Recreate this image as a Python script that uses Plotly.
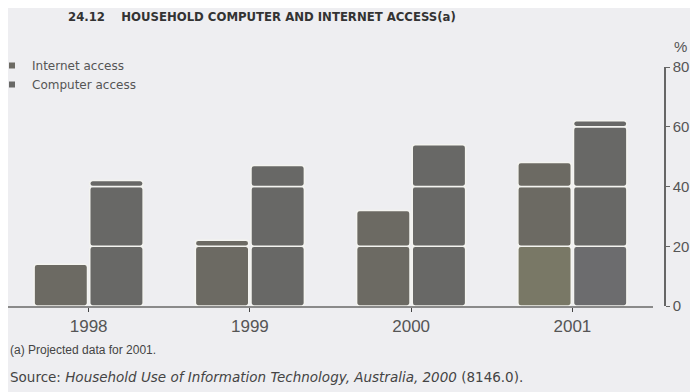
import plotly.graph_objects as go

# ---- data ----
years = ["1998", "1999", "2000", "2001"]
internet = [14, 22, 32, 48]
computer = [42, 47, 54, 62]
projected = [False, False, False, True]   # (a) projected data for 2001
series_names = ["Internet access", "Computer access"]
y_ticks = [0, 20, 40, 60, 80]

# ---- styles ----
BG = "#eeeef1"
SEP = "#f4f4f0"
base_colors = {"Internet access": "#6c6a63", "Computer access": "#686866"}
proj_colors = {"Internet access": "#797866", "Computer access": "#6c6c6e"}

fig = go.Figure()

band = 20
for name, vals in zip(series_names, [internet, computer]):
    for lo in range(0, 80, band):
        seg = [(min(v, lo + band) - lo) if v > lo else None for v in vals]
        if all(s is None for s in seg):
            continue
        is_proj = [p and lo == 0 for p in projected]
        colors = [proj_colors[name] if ip else base_colors[name] for ip in is_proj]
        fig.add_trace(go.Bar(
            x=years, y=seg, base=[lo] * len(years),
            name=name, offsetgroup=name, legendgroup=name, showlegend=False,
            marker=dict(
                color=colors,
                cornerradius=3,
                line=dict(color=SEP, width=1.5),
            ),
            hovertemplate=f"{name} %{{x}}: %{{y}}<extra></extra>",
        ))

# legend entries (small square markers)
for name in series_names:
    fig.add_trace(go.Scatter(
        x=[None], y=[None], mode="markers", name=name, legendgroup=name,
        marker=dict(symbol="square", size=6, color=base_colors[name]),
        showlegend=True,
    ))

# page body has an 8px default margin; work in page pixels and convert
OFF = 8
W, H = 698 - OFF, 392 - OFF
plot_left, plot_right_axis, plot_top, plot_bottom = 8, 665, 67, 306
L = plot_left - OFF
R = W - (plot_right_axis - OFF)
T = plot_top - OFF
B = H - (plot_bottom - OFF)
pw = W - L - R
ph = H - T - B

def px(x):
    return (x - plot_left) / pw

def py(y):
    return (plot_bottom - y) / ph

fig.update_layout(
    width=W, height=H,
    margin=dict(l=L, r=R, t=T, b=B, autoexpand=False),
    paper_bgcolor=BG, plot_bgcolor=BG,
    barmode="group", bargap=0.31, bargroupgap=0.04,
    showlegend=True,
    legend=dict(
        x=px(-8), y=py(51), xanchor="left", yanchor="top",
        bgcolor="rgba(0,0,0,0)", font=dict(family="DejaVu Sans", size=12, color="#555555"),
        itemsizing="trace", tracegroupgap=0,
    ),
    xaxis=dict(
        domain=[0, (653 - plot_left) / pw], range=[-0.5, 3.5],
        showline=True, linecolor="#8a8a8a", linewidth=2,
        ticks="outside", ticklen=4, tickcolor="#444444", tickwidth=1,
        tickfont=dict(family="Liberation Sans", size=17, color="#555555"),
        showgrid=False, zeroline=False,
    ),
    yaxis=dict(
        anchor="free", position=1.0, side="right",
        range=[0, 80], tickvals=y_ticks,
        showline=True, linecolor="#666666", linewidth=1.5,
        ticks="outside", ticklen=4, tickcolor="#666666",
        tickfont=dict(family="Liberation Sans", size=15, color="#555555"),
        showgrid=False, zeroline=False,
    ),
    annotations=[
        dict(text="<b>24.12    HOUSEHOLD COMPUTER AND INTERNET ACCESS(a)</b>",
             x=px(262), y=py(16), xref="paper", yref="paper", showarrow=False,
             xanchor="center", yanchor="middle",
             font=dict(family="DejaVu Sans Condensed, Liberation Sans", size=13, color="#333333")),
        dict(text="%", x=px(680), y=py(46), xref="paper", yref="paper", showarrow=False,
             xanchor="center", yanchor="middle",
             font=dict(family="Liberation Sans", size=15, color="#555555")),
        dict(text="(a) Projected data for 2001.", x=px(8), y=py(350), xref="paper", yref="paper",
             showarrow=False, xanchor="left", yanchor="middle",
             font=dict(family="Liberation Sans", size=12, color="#444444")),
        dict(text="Source: <i>Household Use of Information Technology, Australia, 2000</i> (8146.0).",
             x=px(8), y=py(377), xref="paper", yref="paper",
             showarrow=False, xanchor="left", yanchor="middle",
             font=dict(family="DejaVu Sans", size=13.5, color="#444444")),
    ],
)

fig.write_html("out.html")
